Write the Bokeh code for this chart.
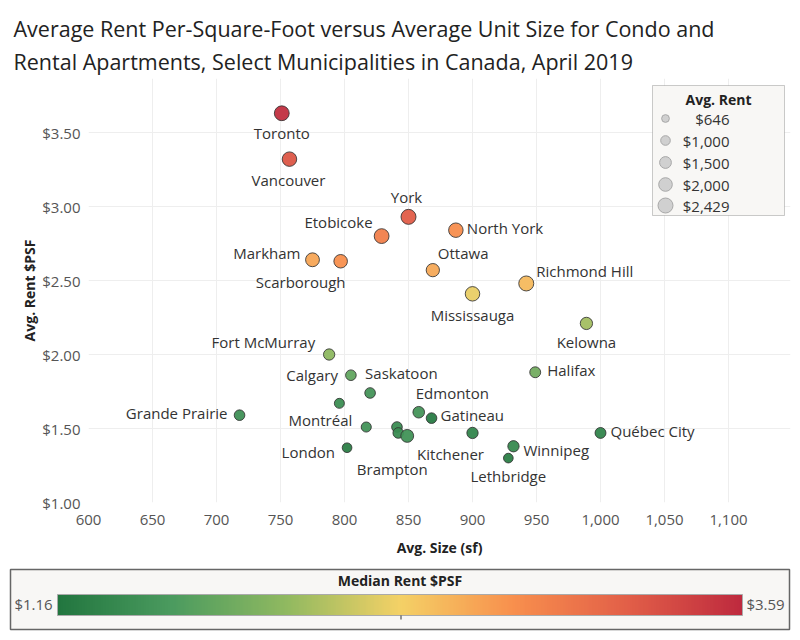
import numpy as np
from bokeh.plotting import figure
from bokeh.models import (Range1d, LinearColorMapper, ColumnDataSource, Label, ColorBar, Title,
                          BoxAnnotation, NumeralTickFormatter, FixedTicker)
from bokeh.embed import file_html
from bokeh.resources import INLINE
from bokeh.core.properties import value

# ---------------- data ----------------
cities = ["Toronto", "Vancouver", "York", "Etobicoke", "North York", "Markham", "Scarborough",
          "Ottawa", "Richmond Hill", "Mississauga", "Kelowna", "Halifax", "Fort McMurray",
          "Calgary", "Saskatoon", "", "Grande Prairie", "Montréal", "London", "", "",
          "Brampton", "Edmonton", "Gatineau", "Kitchener", "Québec City", "Winnipeg", "Lethbridge"]
avg_size = [751, 757, 850, 829, 887, 775, 797, 869, 942, 900, 989, 949, 788,
            805, 820, 796, 718, 817, 802, 841, 842, 849, 858, 868, 900, 1000, 932, 928]
avg_psf = [3.63, 3.32, 2.93, 2.80, 2.84, 2.64, 2.63, 2.57, 2.48, 2.41, 2.21, 1.88, 2.00,
           1.86, 1.74, 1.67, 1.59, 1.51, 1.37, 1.51, 1.47, 1.45, 1.61, 1.57, 1.47, 1.47, 1.38, 1.30]
median_psf = [3.55, 3.25, 3.20, 2.90, 2.80, 2.65, 2.78, 2.62, 2.52, 2.33, 2.05, 1.80, 1.95,
              1.70, 1.50, 1.42, 1.45, 1.48, 1.25, 1.40, 1.40, 1.47, 1.50, 1.22, 1.33, 1.33, 1.38, 1.25]
avg_rent = [2370, 2270, 2429, 2370, 2270, 2070, 1980, 1900, 2429, 2270, 1630, 1290, 1380,
            1220, 1220, 1075, 1220, 1100, 1010, 1220, 1220, 1790, 1456, 1220, 1380, 1290, 1380, 1010]

x_ticks = [600, 650, 700, 750, 800, 850, 900, 950, 1000, 1050, 1100]
y_ticks = [1.0, 1.5, 2.0, 2.5, 3.0, 3.5]
legend_rents = [646, 1000, 1500, 2000, 2429]
legend_labels = ["$646", "$1,000", "$1,500", "$2,000", "$2,429"]
color_min, color_max = 1.16, 3.59
color_title = "Median Rent $PSF"

title1 = "Average Rent Per-Square-Foot versus Average Unit Size for Condo and"
title2 = "Rental Apartments, Select Municipalities in Canada, April 2019"

# ---------------- label styling (offsets in px) ----------------
label_style = {
    "Toronto": ("center", 0, 20), "Vancouver": ("center", -1, 21), "York": ("center", -2, -20),
    "Etobicoke": ("right", -9, -14), "North York": ("left", 11, -2), "Markham": ("right", -12, -7),
    "Scarborough": ("center", -40, 21), "Ottawa": ("left", 5, -17), "Richmond Hill": ("left", 10, -12),
    "Mississauga": ("center", 0, 21), "Kelowna": ("center", 0, 19), "Halifax": ("left", 12, -2),
    "Fort McMurray": ("right", -14, -13), "Calgary": ("right", -13, 0), "Saskatoon": ("left", -5, -20),
    "Grande Prairie": ("right", -12, -2), "Montréal": ("right", -14, -7), "London": ("right", -12, 4),
    "Brampton": ("center", -15, 33), "Edmonton": ("left", -3, -19), "Gatineau": ("left", 9, -3),
    "Kitchener": ("center", -22, 21), "Québec City": ("left", 10, -2), "Winnipeg": ("left", 10, 4),
    "Lethbridge": ("center", 0, 18),
}

# ---------------- palette ----------------
stops = ["#22763f", "#4b9b5f", "#90b960", "#f4d166", "#f88f4d", "#e25f48", "#be2a3e"]
def h2r(h):
    return [int(h[i:i + 2], 16) for i in (1, 3, 5)]
rgb = np.array([h2r(s) for s in stops], dtype=float)
pos = np.linspace(0, 1, len(stops))
ts = np.linspace(0, 1, 256)
palette = ["#%02x%02x%02x" % tuple(int(round(np.interp(t, pos, rgb[:, c]))) for c in range(3)) for t in ts]
mapper = LinearColorMapper(palette=palette, low=color_min, high=color_max)

FONT = "Open Sans"
K = 15.0 / np.sqrt(max(legend_rents))

# ---------------- layout constants (canvas px) ----------------
W, H = 800, 640
F_LEFT, F_RIGHT, F_TOP, F_BOTTOM = 88, 790, 78, 502
X0, PX_PER_X = 600.0, 1.28
Y0, PX_PER_Y = 1.0, 148.0
x_end = X0 + (F_RIGHT - F_LEFT) / PX_PER_X
y_end = Y0 + (F_BOTTOM - F_TOP) / PX_PER_Y

def fx(px):  # canvas x -> frame-relative screen x
    return px - F_LEFT
def fy(py):  # canvas y -> frame-relative screen y (from bottom)
    return F_BOTTOM - py
def dx(px):
    return X0 + (px - F_LEFT) / PX_PER_X
def dy(py):
    return Y0 + (F_BOTTOM - py) / PX_PER_Y

p = figure(width=W, height=H, x_range=Range1d(X0, x_end), y_range=Range1d(Y0, y_end),
           output_backend="svg", toolbar_location=None,
           min_border_left=F_LEFT, min_border_right=W - F_RIGHT,
           min_border_top=F_TOP, min_border_bottom=H - F_BOTTOM,
           outline_line_color=None, background_fill_color="white", border_fill_color="white")

# titles (stacked outward from the frame: line 2 first)
p.add_layout(Title(text=title2, align="left", offset=13 - F_LEFT, text_font=FONT,
                   text_font_size="21.5px", text_font_style="normal", text_color="#222222",
                   standoff=5), "above")
p.add_layout(Title(text=title1, align="left", offset=13 - F_LEFT, text_font=FONT,
                   text_font_size="21.5px", text_font_style="normal", text_color="#222222",
                   standoff=0), "above")

for ax in (p.xaxis[0], p.yaxis[0]):
    ax.axis_line_color = None
    ax.major_tick_line_color = None
    ax.minor_tick_line_color = None
    ax.major_label_text_font = FONT
    ax.major_label_text_font_size = "15px"
    ax.major_label_text_color = "#555555"
    ax.axis_label_text_font = FONT
    ax.axis_label_text_font_size = "14px"
    ax.axis_label_text_font_style = "bold"
    ax.axis_label_text_color = "#222222"

p.xaxis.ticker = FixedTicker(ticks=x_ticks)
p.xaxis.formatter = NumeralTickFormatter(format="0,0")
p.xaxis.axis_label = "Avg. Size (sf)"
p.xaxis.major_label_standoff = 6
p.xaxis.axis_label_standoff = 10
p.yaxis.ticker = FixedTicker(ticks=y_ticks)
p.yaxis.formatter = NumeralTickFormatter(format="$0.00")
p.yaxis.axis_label = "Avg. Rent $PSF"
p.yaxis.major_label_standoff = 2
p.yaxis.axis_label_standoff = 0
p.xgrid.grid_line_color = "#eeeeee"
p.ygrid.grid_line_color = "#eeeeee"

src = ColumnDataSource(dict(x=avg_size, y=avg_psf, c=median_psf,
                            s=[K * np.sqrt(r) for r in avg_rent], name=cities))
p.scatter("x", "y", size="s", source=src, fill_color={"field": "c", "transform": mapper},
          fill_alpha=0.95, line_color="#333333", line_alpha=0.85, line_width=1)

for align in ("left", "center", "right"):
    xs, ys, ts_, xo, yo = [], [], [], [], []
    for c, x, y in zip(cities, avg_size, avg_psf):
        if c and label_style[c][0] == align:
            xs.append(x); ys.append(y); ts_.append(c)
            xo.append(label_style[c][1]); yo.append(label_style[c][2])
    p.text(x=xs, y=ys, text=ts_, x_offset=xo, y_offset=yo, text_align=align,
           text_baseline="middle", text_font=value(FONT), text_font_size="15px",
           text_color="#333333")

# ---------------- size legend ----------------
p.add_layout(BoxAnnotation(left=fx(652), right=fx(784), top=fy(85), bottom=fy(215),
                           left_units="screen", right_units="screen", top_units="screen",
                           bottom_units="screen", fill_color="#f8f7f5", fill_alpha=1,
                           line_color="#555555", line_width=1))
p.add_layout(Label(x=fx(718), y=fy(99), x_units="screen", y_units="screen", text="Avg. Rent",
                   text_align="center", text_baseline="middle", text_font=FONT,
                   text_font_size="14px", text_font_style="bold", text_color="#222222"))
leg_py = [118, 140, 162, 184, 205]
lr = p.scatter(x=[dx(665)] * len(legend_rents), y=[dy(v) for v in leg_py],
               size=[K * np.sqrt(r) for r in legend_rents], fill_color="#d0d0d0",
               line_color="#a8a8a8", line_width=1)
lr.level = "overlay"
for lab, py in zip(legend_labels, leg_py):
    p.add_layout(Label(x=fx(729), y=fy(py), x_units="screen", y_units="screen", text=lab,
                       text_align="right", text_baseline="middle", text_font=FONT,
                       text_font_size="15px", text_color="#333333"))

# ---------------- color legend ----------------
def bar(cmap, left, right, bottom, top, line_color=None, line_width=1, ticks=(),
        overrides=None, formatter=None, font_size="15px", bold=False, label_color="#555555",
        alpha=1.0):
    kw = dict(color_mapper=cmap, orientation="horizontal", location=(fx(left), fy(bottom)),
              width=int(right - left), height=int(bottom - top), padding=0, title=None,
              ticker=FixedTicker(ticks=list(ticks)), major_tick_line_color=None,
              minor_tick_line_color=None, bar_line_color=line_color, bar_line_width=line_width,
              border_line_color=None, background_fill_alpha=0, label_standoff=0,
              scale_alpha=alpha, major_label_text_font=FONT, major_label_text_font_size=font_size,
              major_label_text_font_style="bold" if bold else "normal",
              major_label_text_color=label_color)
    if overrides:
        kw["major_label_overrides"] = overrides
    if formatter is not None:
        kw["formatter"] = formatter
    p.add_layout(ColorBar(**kw), "center")

bar(LinearColorMapper(palette=["#f8f7f5"], low=0, high=1), 10, 789, 629, 569,
    line_color="#666666", line_width=1.5)
bar(mapper, 57, 742, 615, 594, line_color="#aaaaaa")
bar(LinearColorMapper(palette=["#333333"], low=0, high=1), 400, 401, 619, 615)
# colour-legend title, centred over the bar
bar(LinearColorMapper(palette=["#ffffff"], low=0, high=2), 57, 742, 592, 591,
    ticks=[1], overrides={1: color_title}, font_size="14px", bold=True,
    label_color="#222222", alpha=0)
# end labels of the colour range
bar(LinearColorMapper(palette=["#ffffff"], low=color_min, high=color_max), 33, 765, 616, 615,
    ticks=[color_min, color_max], formatter=NumeralTickFormatter(format="$0.00"),
    alpha=0)

open("out.html", "w").write(file_html(p, INLINE))
